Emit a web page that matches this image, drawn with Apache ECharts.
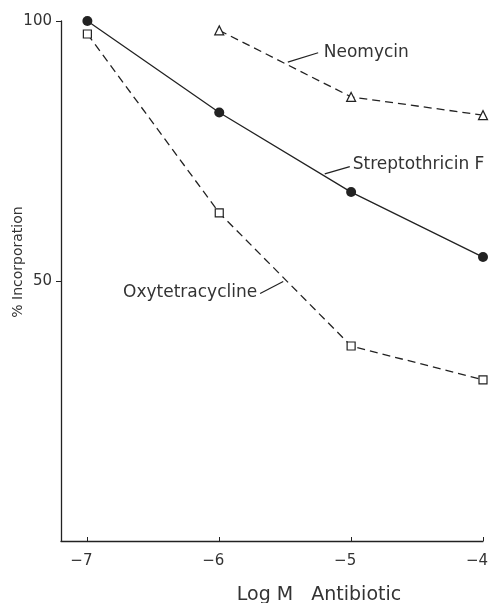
<!DOCTYPE html>
<html>
<head>
<meta charset="utf-8">
<script src="https://cdn.jsdelivr.net/npm/echarts@6/dist/echarts.min.js"></script>
<style>
  html, body { margin: 0; padding: 0; background: #fff; }
  #chart { width: 500px; height: 603px; }
</style>
</head>
<body>
<div id="chart"></div>
<script>
// values
const logDose = [-7, -6, -5, -4];
const streptothricin = [100, 82.4, 67.1, 54.6];
const oxytetracycline = [97.5, 63.1, 37.5, 31.0];
const neomycinDose = [-6, -5, -4];
const neomycin = [98.2, 85.4, 81.9];
const xTicks = [-7, -6, -5, -4];
const yTicks = [50, 100];

// annotation anchors in data units: [leader start, leader end, text anchor]
const neoNote = [[-5.48, 92.1], [-5.25, 93.9], [-5.215, 94.0]];
const strepNote = [[-5.20, 70.6], [-5.01, 72.0], [-4.995, 72.3]];
const oxyNote = [[-5.69, 47.6], [-5.515, 49.9], [-5.705, 47.7]];

const ink = '#222';
const txt = '#333';
const font = 'DejaVu Sans';

function pair(a, b) {
    return a.map((v, i) => [v, b[i]]);
}
function note(n, name, align) {
    return {
        markLine: {
            silent: true, symbol: 'none', animation: false,
            lineStyle: { color: ink, width: 1.2, type: 'solid' },
            label: { show: false },
            data: [[{ coord: n[0] }, { coord: n[1] }]]
        },
        markPoint: {
            silent: true, symbol: 'circle', symbolSize: 0, animation: false,
            label: {
                show: true, position: 'inside', formatter: name,
                color: txt, fontFamily: font, fontSize: 17,
                align: align, verticalAlign: 'middle',
                offset: [align === 'left' ? 1 : -1, 0]
            },
            data: [{ coord: n[2] }]
        }
    };
}

const chart = echarts.init(document.getElementById('chart'));
chart.setOption({
    animation: false,
    grid: { left: 61, right: 17, top: 21, bottom: 62, outerBoundsMode: 'none', containLabel: false },
    xAxis: {
        type: 'value', min: -7.2, max: -4,
        name: 'Log M   Antibiotic', nameLocation: 'middle', nameGap: 45,
        nameTextStyle: { color: txt, fontFamily: font, fontSize: 19, padding: [0, 0, 0, 94] },
        axisLine: { lineStyle: { color: ink, width: 1.3 } },
        axisTick: { show: true, inside: true, length: 4, customValues: xTicks, lineStyle: { color: ink } },
        axisLabel: {
            customValues: xTicks, margin: 13, color: txt, fontFamily: font, fontSize: 15,
            padding: [0, 12, 0, 0],
            formatter: v => String(v).replace('-', '\u2212')
        },
        splitLine: { show: false }
    },
    yAxis: {
        type: 'value', min: 0, max: 100,
        name: '% Incorporation', nameLocation: 'middle', nameGap: 36, nameMoveOverlap: false,
        nameTextStyle: { color: txt, fontFamily: font, fontSize: 14, padding: [0, 0, 0, 38] },
        axisLine: { show: true, lineStyle: { color: ink, width: 1.3 } },
        axisTick: { show: true, length: 5, customValues: yTicks, lineStyle: { color: ink } },
        axisLabel: { customValues: yTicks, margin: 9, color: txt, fontFamily: font, fontSize: 15 },
        splitLine: { show: false }
    },
    series: [
        Object.assign({
            name: 'Streptothricin F', type: 'line', data: pair(logDose, streptothricin),
            symbol: 'circle', symbolSize: 10,
            lineStyle: { color: ink, width: 1.3 },
            itemStyle: { color: ink }
        }, note(strepNote, 'Streptothricin F', 'left')),
        Object.assign({
            name: 'Oxytetracycline', type: 'line', data: pair(logDose, oxytetracycline),
            symbol: 'rect', symbolSize: 8,
            lineStyle: { color: ink, width: 1.3, type: [8, 5] },
            itemStyle: { color: '#fff', borderColor: ink, borderWidth: 1.2 }
        }, note(oxyNote, 'Oxytetracycline', 'right')),
        Object.assign({
            name: 'Neomycin', type: 'line', data: pair(neomycinDose, neomycin),
            symbol: 'triangle', symbolSize: 9,
            lineStyle: { color: ink, width: 1.3, type: [8, 5] },
            itemStyle: { color: '#fff', borderColor: ink, borderWidth: 1.2 }
        }, note(neoNote, 'Neomycin', 'left'))
    ]
});
</script>
</body>
</html>
